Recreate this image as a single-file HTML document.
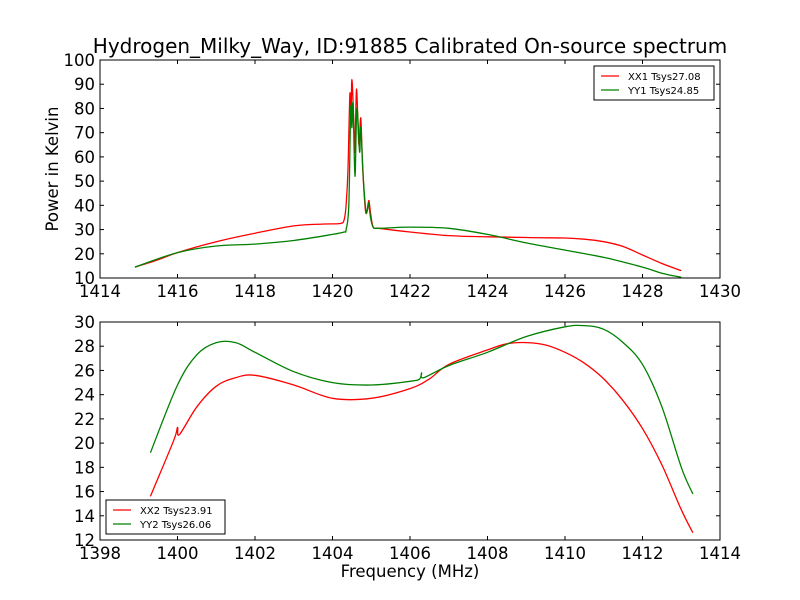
<!DOCTYPE html>
<html><head><meta charset="utf-8"><style>
body{margin:0;background:#fff;}
svg{display:block;font-family:"DejaVu Sans","Liberation Sans",sans-serif;}
</style></head><body>
<svg id="c" width="800" height="600"></svg>
<script>
const topX=[1414.9,1415.5,1416,1417,1418,1419,1419.8,1420.2,1420.3,1420.35,1420.4,1420.45,1420.48,1420.5,1420.55,1420.58,1420.62,1420.68,1420.73,1420.78,1420.85,1420.9,1420.94,1420.98,1421.05,1421.2,1422,1423,1424,1425,1426,1426.5,1427,1427.5,1428,1428.5,1429];
const topXX1=[14.5,17.5,20.5,25,28.5,31.5,32.3,32.5,34,40,55,86,75,92,75,62,88,65,76,55,38,38,42,37,31,30.5,29,27.5,27,26.7,26.5,26,25,23,19.5,16,13];
const topYY1x=[1414.9,1416,1417,1418,1419,1420,1420.3,1420.35,1420.42,1420.47,1420.5,1420.53,1420.58,1420.63,1420.7,1420.73,1420.8,1420.87,1420.93,1420.98,1421.05,1421.2,1422,1423,1424,1425,1426,1427,1428,1428.5,1429];
const topYY1=[14.5,20.5,23.2,24,25.5,28,29,30,40,80,72,82,52,80,62,72,50,37,41,35,31,30.5,31,30.5,28,24.5,21.5,18.5,14.5,12,10.3];
const botXX2x=[1399.3,1399.9,1400,1400.05,1400.5,1401,1401.5,1402,1403,1404,1405,1406,1406.5,1407,1408,1408.5,1409,1409.5,1410,1410.5,1411,1411.5,1412,1412.5,1413,1413.3];
const botXX2=[15.6,20.2,21.3,20.7,23,24.7,25.4,25.6,24.8,23.7,23.7,24.5,25.3,26.5,27.7,28.2,28.3,28.1,27.5,26.6,25.3,23.5,21.2,18.2,14.5,12.6];
const botYY2x=[1399.3,1400,1400.5,1401,1401.5,1402,1403,1404,1405,1406,1406.25,1406.3,1406.35,1407,1408,1409,1410,1410.5,1411,1411.5,1412,1412.5,1413,1413.3];
const botYY2=[19.2,24.8,27.3,28.3,28.3,27.5,25.9,25,24.8,25.1,25.3,25.8,25.4,26.4,27.5,28.8,29.6,29.7,29.4,28.3,26.5,23,18,15.8];
const topXTicks=[1414,1416,1418,1420,1422,1424,1426,1428,1430];
const topYTicks=[10,20,30,40,50,60,70,80,90,100];
const botXTicks=[1398,1400,1402,1404,1406,1408,1410,1412,1414];
const botYTicks=[12,14,16,18,20,22,24,26,28,30];

const NS="http://www.w3.org/2000/svg", svg=document.getElementById('c');
function mk(t,a,p){const e=document.createElementNS(NS,t);for(const k in a)e.setAttribute(k,a[k]);(p||svg).appendChild(e);return e;}
function smooth(pts){
  let d='M'+pts[0][0].toFixed(1)+','+pts[0][1].toFixed(1);
  for(let i=0;i<pts.length-1;i++){
    const p0=pts[Math.max(0,i-1)],p1=pts[i],p2=pts[i+1],p3=pts[Math.min(pts.length-1,i+2)];
    const c1x=p1[0]+(p2[0]-p0[0])/6,c1y=p1[1]+(p2[1]-p0[1])/6;
    const c2x=p2[0]-(p3[0]-p1[0])/6,c2y=p2[1]-(p3[1]-p1[1])/6;
    d+=' C'+c1x.toFixed(1)+','+c1y.toFixed(1)+' '+c2x.toFixed(1)+','+c2y.toFixed(1)+' '+p2[0].toFixed(1)+','+p2[1].toFixed(1);
  }
  return d;
}
function panel(name,L,T,W,H,xmin,xmax,ymin,ymax,xt,yt,series,leg){
  const g=mk('g',{});
  
  
  const sx=v=>L+(v-xmin)/(xmax-xmin)*W, sy=v=>T+H-(v-ymin)/(ymax-ymin)*H;
  series.forEach(s=>{
    const p=mk('path',{d:smooth(s.x.map((x,i)=>[sx(x),sy(s.y[i])])),fill:'none',stroke:s.c,'stroke-width':1.3,'stroke-linejoin':'round'},g);
    
    
  });
  const fr=mk('rect',{x:L,y:T,width:W,height:H,fill:'none',stroke:'#000','stroke-width':1},g);
  
  
  xt.forEach(v=>{const x=sx(v);mk('line',{x1:x,x2:x,y1:T+H,y2:T+H-4,stroke:'#000'},g);mk('line',{x1:x,x2:x,y1:T,y2:T+4,stroke:'#000'},g);
    const t=mk('text',{x:x,y:T+H+19,'text-anchor':'middle','font-size':16.5},g);t.textContent=v;
    
    });
  yt.forEach(v=>{const y=sy(v);mk('line',{x1:L,x2:L+4,y1:y,y2:y,stroke:'#000'},g);mk('line',{x1:L+W,x2:L+W-4,y1:y,y2:y,stroke:'#000'},g);
    const t=mk('text',{x:L-5,y:y+6,'text-anchor':'end','font-size':16.5},g);t.textContent=v;
    
    });
  const lg=mk('g',{},g);
  
  
  mk('rect',{x:leg.x,y:leg.y,width:leg.w,height:34,fill:'#fff',stroke:'#000'},lg);
  series.forEach((s,i)=>{const y=leg.y+10+i*14;
    mk('line',{x1:leg.x+7,x2:leg.x+25,y1:y,y2:y,stroke:s.c,'stroke-width':1.2},lg);
    const t=mk('text',{x:leg.x+34,y:y+4,'font-size':10},lg);t.textContent=s.label;
    
    });
}
panel('top-chart',100,60,620,218,1414,1430,10,100,topXTicks,topYTicks,
 [{x:topX,y:topXX1,c:'#ff0000',n:'xx1-line',label:'XX1 Tsys27.08'},{x:topYY1x,y:topYY1,c:'#008000',n:'yy1-line',label:'YY1 Tsys24.85'}],{x:594,y:66,w:120});
panel('bottom-chart',100,322,620,218,1398,1414,12,30,botXTicks,botYTicks,
 [{x:botXX2x,y:botXX2,c:'#ff0000',n:'xx2-line',label:'XX2 Tsys23.91'},{x:botYY2x,y:botYY2,c:'#008000',n:'yy2-line',label:'YY2 Tsys26.06'}],{x:106,y:500,w:119});
let t=mk('text',{x:410,y:53,'text-anchor':'middle','font-size':20});t.textContent='Hydrogen_Milky_Way, ID:91885 Calibrated On-source spectrum';


t=mk('text',{x:58,y:169,'text-anchor':'middle','font-size':16.5,transform:'rotate(-90 58 169)'});t.textContent='Power in Kelvin';


t=mk('text',{x:410,y:577,'text-anchor':'middle','font-size':16.5});t.textContent='Frequency (MHz)';


</script>
</body></html>
